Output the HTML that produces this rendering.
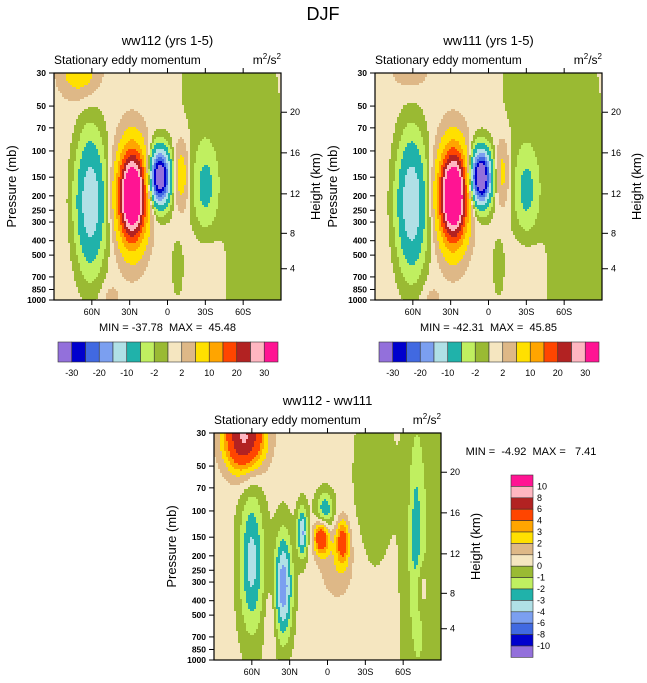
<!DOCTYPE html>
<html><head><meta charset="utf-8">
<style>
body{margin:0;background:#fff;}
svg{display:block;font-family:"Liberation Sans",Arial,sans-serif;}
</style></head>
<body>
<svg id="fig" width="647" height="683" viewBox="0 0 647 683">
<text x="323" y="20" font-size="18" text-anchor="middle">DJF</text>
</svg>
<script>
// ---- data ----
const latTicks = [60, 30, 0, -30, -60];
const latTickLabels = ["60N", "30N", "0", "30S", "60S"];
const presTicks = [30, 50, 70, 100, 150, 200, 250, 300, 400, 500, 700, 850, 1000];
const heightTicks = [20, 16, 12, 8, 4];
const heightTickPres = [55, 103, 194, 357, 617];
const colors = ["#9370db","#0000cd","#4169e1","#7b9ff0","#b0e0e6","#20b2aa","#c0ef60","#9aba33","#f5e6c0","#deb887","#ffe000","#ffa500","#ff4500","#b22222","#ffb6c1","#ff1493"];
const levelsFull = [-30,-25,-20,-15,-10,-5,-2,0,2,5,10,15,20,25,30];
const levelsFullLabels = ["-30","-20","-10","-2","2","10","20","30"];
const levelsDiff = [-10,-8,-6,-4,-3,-2,-1,0,1,2,3,4,6,8,10];
// blobs: [lat, pressure, amplitude, sigmaLat(deg), sigmaLog10p]
const blobsA = [
  [0,500,1.0,400,5],[-68,300,-1.9,22,1.2],[-25,40,-1.5,14,0.3],[-8,600,-1.3,6,0.25],[-32,650,1.0,8,0.2],
  [61,220,-15,8,0.3],[28,200,45,7.5,0.21],[6,150,-40,5.3,0.12],
  [-11,145,7,3.8,0.15],[-30,175,-7,7,0.2],[70,28,8,10,0.12],[45,950,2,5,0.06]
];
const blobsB = [
  [0,500,1.0,400,5],[-68,300,-1.9,22,1.2],[-25,40,-1.5,14,0.3],[-8,600,-1.3,6,0.25],[-32,650,1.0,8,0.2],
  [61,225,-15.5,8,0.3],[28,200,45.5,7.5,0.21],[6,150,-42,5.3,0.12],
  [-11,140,5.5,3.8,0.15],[-30,185,-7,7,0.2],[62,28,3,10,0.1],[45,980,2,5,0.06]
];
const blobsD = [
  [0,500,0.4,400,5],[-82,400,-1.3,16,1.5],[-70,150,-2.0,4,0.45],[-35,60,-1.2,10,0.4],
  [66,32,8,11,0.16],[60,220,-3.8,7,0.35],[35,320,-5.2,5,0.25],
  [20,140,-4.5,3,0.12],[2,100,-3.5,5,0.09],[5,150,5.5,4,0.08],
  [-12,160,4,3.5,0.1],[-8,220,1.4,10,0.18],[-75,330,1.6,4,0.12],[45,550,1.2,3,0.15]
];
const panels = [
  {id:"ww112", title:"ww112 (yrs 1-5)", x0:54, y0:73, blobs:blobsA, levels:levelsFull, mm:"MIN = -37.78  MAX =  45.48"},
  {id:"ww111", title:"ww111 (yrs 1-5)", x0:375, y0:73, blobs:blobsB, levels:levelsFull, mm:"MIN = -42.31  MAX =  45.85"},
  {id:"diff", title:"ww112 - ww111", x0:214, y0:433, blobs:blobsD, levels:levelsDiff, mm:null}
];
// ---- drawing ----
const NS="http://www.w3.org/2000/svg";
const svg=document.getElementById('fig');
const W=227,H=227;
function mk(tag,attrs,parent){const e=document.createElementNS(NS,tag);for(const k in attrs)e.setAttribute(k,attrs[k]);(parent||svg).appendChild(e);return e;}
function xs(p,lat){return p.x0+(90-lat)/180*W;}
function ys(p,pr){return p.y0+Math.log10(pr/30)/Math.log10(1000/30)*H;}
function field(p,lat,pr){let v=0;const lp=Math.log10(pr);for(const b of p.blobs){const dl=(lat-b[0])/b[3],dp=(lp-Math.log10(b[1]))/b[4];v+=b[2]*Math.exp(-0.5*(dl*dl+dp*dp));}return v;}
function cls(levels,v){let i=0;while(i<levels.length&&v>=levels[i])i++;return i;}
function txt(x,y,s,size,anchor,name,parent,extra){const t=mk('text',Object.assign({x:x,y:y,'font-size':size,'text-anchor':anchor||'start'},extra||{}),parent);t.textContent=s;return t;}
panels.forEach(p=>{
  const g=mk('g',{});
  
  
  const cg=mk('g',{},g);
  
  
  const step=2;
  for(let py=0;py<H;py+=step){
    const pr=30*Math.pow(1000/30,(py+step/2)/H);
    const hh=Math.min(step,H-py)+0.5;
    let runStart=0,runC=-1;
    const flush=(end)=>{
      if(runC<0)return;
      const r=mk('rect',{x:p.x0+runStart,y:p.y0+py,width:Math.min(end,W)-runStart+0.5,height:Math.min(hh,H-py),fill:colors[runC]},cg);
      
      
    };
    for(let px=0;px<W;px+=step){
      const lat=90-(px+step/2)/W*180;
      const c=cls(p.levels,field(p,lat,pr));
      if(c!==runC){flush(px);runStart=px;runC=c;}
    }
    flush(W);
  }
  const fr=mk('rect',{x:p.x0,y:p.y0,width:W,height:H,fill:'none',stroke:'#000','stroke-width':1.2},g);
  
  
  txt(p.x0+W/2,p.y0-28,p.title,13,'middle','panel-title',g);
  txt(p.x0,p.y0-9,'Stationary eddy momentum',12,'start','panel-subtitle',g);
  const u=txt(p.x0+W,p.y0-9,'m',12,'end','units-label',g);
  u.innerHTML='m<tspan font-size="8" dy="-5">2</tspan><tspan dy="5">/s</tspan><tspan font-size="8" dy="-5">2</tspan>';
  latTicks.forEach((lt,i)=>{
    const x=xs(p,lt);
    const t=mk('line',{x1:x,x2:x,y1:p.y0+H,y2:p.y0+H+5,stroke:'#000'},g);
    
    
    const t2=mk('line',{x1:x,x2:x,y1:p.y0,y2:p.y0-5,stroke:'#000'},g);
    
    
    txt(x,p.y0+H+15,latTickLabels[i],9,'middle','x-tick-label',g);
  });
  presTicks.forEach(pr=>{
    const y=ys(p,pr);
    const t=mk('line',{x1:p.x0-5,x2:p.x0,y1:y,y2:y,stroke:'#000'},g);
    
    
    txt(p.x0-8,y+3,String(pr),8.5,'end','y-tick-label',g,{'font-weight':'bold'});
  });
  heightTicks.forEach((h,i)=>{
    const y=ys(p,heightTickPres[i]);
    const t=mk('line',{x1:p.x0+W,x2:p.x0+W+6,y1:y,y2:y,stroke:'#000'},g);
    
    
    txt(p.x0+W+9,y+3,String(h),9,'start','height-tick-label',g);
  });
  txt(0,0,'Pressure (mb)',13,'middle','y-axis-title',g,{transform:'translate('+(p.x0-38)+','+(p.y0+H/2)+') rotate(-90)'});
  txt(0,0,'Height (km)',13,'middle','height-axis-title',g,{transform:'translate('+(p.x0+W+39)+','+(p.y0+H/2)+') rotate(-90)'});
  if(p.mm){
    txt(p.x0+W/2,p.y0+H+31,p.mm.replace(/ /g,'\u00a0'),11,'middle','min-max-label',g);
    const lb=mk('g',{},g);
    
    
    const bx=p.x0+4,bw=13.75,by=p.y0+269;
    colors.forEach((c,i)=>{const r=mk('rect',{x:bx+i*bw,y:by,width:bw,height:20,fill:c,stroke:'#333','stroke-width':0.6},lb);
      
      });
    levelsFullLabels.forEach((s,i)=>txt(bx+(2*i+1)*bw,by+34,s,9,'middle','colorbar-label',lb));
  }
});
txt(531,455,'MIN =  -4.92  MAX =   7.41'.replace(/ /g,'\u00a0'),11,'middle','min-max-label');
const vb=mk('g',{});


const vx=511,vy=475,vh=11.4;
for(let i=0;i<16;i++){
  const r=mk('rect',{x:vx,y:vy+i*vh,width:22,height:vh,fill:colors[15-i],stroke:'#333','stroke-width':0.6},vb);
  
  
}
for(let i=0;i<15;i++){txt(vx+26,vy+(i+1)*vh+3,String(levelsDiff[14-i]),9,'start','colorbar-label',vb);}
</script>
</body></html>
